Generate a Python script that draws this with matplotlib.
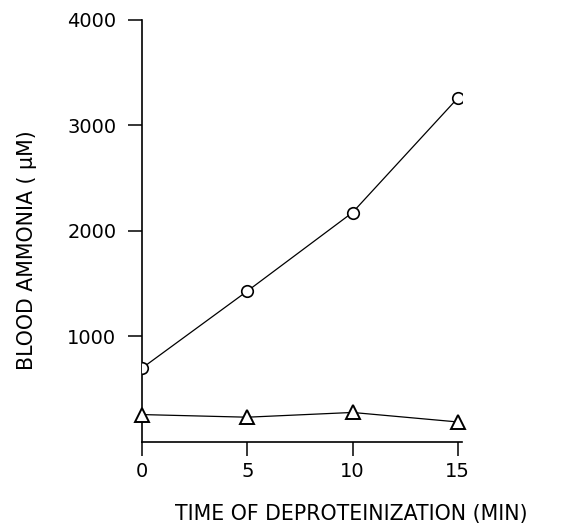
import matplotlib
matplotlib.use("Agg")
import matplotlib.pyplot as plt

# data
time_min = [0, 5, 10, 15]
ammonia_circle = [700, 1430, 2175, 3260]
ammonia_triangle = [260, 235, 280, 190]

x_ticks = [0, 5, 10, 15]
y_ticks = [1000, 2000, 3000, 4000]

plt.rcParams["font.family"] = ["DejaVu Sans"]

fig = plt.figure(figsize=(5.61, 5.26), dpi=100)
ax = fig.add_axes([0.2531, 0.1597, 0.5704, 0.8023])

ax.plot(time_min, ammonia_circle, color="black", lw=0.9,
        marker="o", ms=8.3, mfc="white", mec="black", mew=1.2, zorder=3)
ax.plot(time_min, ammonia_triangle, color="black", lw=0.9,
        marker="^", ms=10.5, mfc="white", mec="black", mew=1.4, zorder=3,
        clip_on=False)

ax.set_xlim(0, 15.2)
ax.set_ylim(0, 4000)
ax.set_xticks(x_ticks)
ax.set_yticks(y_ticks)

for side in ("top", "right"):
    ax.spines[side].set_visible(False)
for side in ("left", "bottom"):
    ax.spines[side].set_linewidth(1.2)

ax.tick_params(axis="y", direction="out", length=10, width=1.1, pad=8.5,
               labelsize=14)
ax.tick_params(axis="x", direction="out", length=10, width=1.1, pad=4.5,
               labelsize=14)

fig.text(27 / 561, 1 - 250 / 526, "BLOOD AMMONIA ( \u03bcM)", rotation=90,
         ha="center", va="center", fontsize=14.8)
fig.text(351 / 561, 1 - 514 / 526, "TIME OF DEPROTEINIZATION (MIN)",
         ha="center", va="center", fontsize=14.8)

fig.savefig("out.png", dpi=100)
